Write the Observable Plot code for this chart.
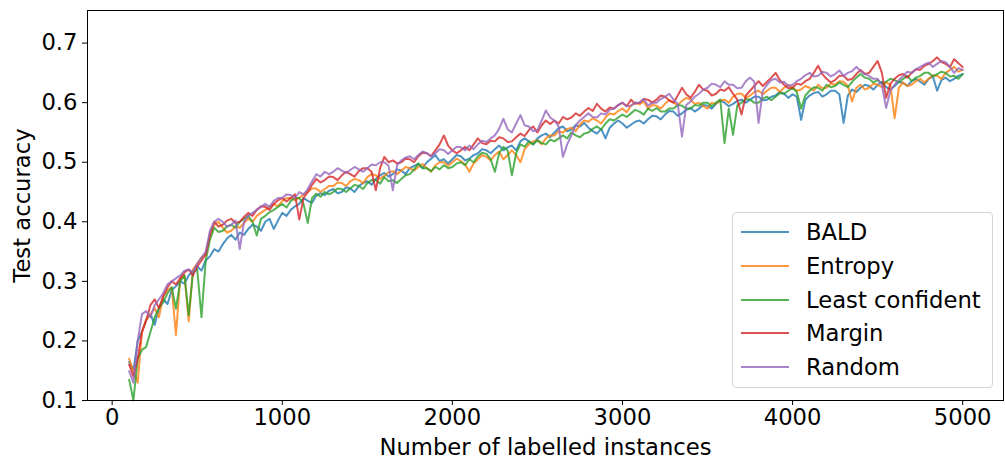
<!DOCTYPE html>
<html>
<head>
<meta charset="utf-8">
<script src="https://cdn.jsdelivr.net/npm/d3@7"></script>
<script src="https://cdn.jsdelivr.net/npm/@observablehq/plot@0.6"></script>
<style>
  body { margin: 0; background: #fff; }
  #wrap { position: relative; width: 1005px; height: 463px; font-family: "DejaVu Sans", sans-serif; }
  #legend { position: absolute; left: 732px; top: 212px; width: 259px; height: 174px;
    border: 1px solid #d5d5d5; border-radius: 4px; background: rgba(255,255,255,0.85); box-sizing: content-box; }
  .item { position: absolute; left: 0; height: 0; }
  .swatch { position: absolute; left: 8px; width: 48px; height: 2px; top: -1px; }
  .lbl { position: absolute; left: 73px; top: -14px; font-size: 22.7px; line-height: 28px; white-space: nowrap; color: #000; }
</style>
</head>
<body>
<div id="wrap"><div id="chart"></div><div id="legend"></div></div>
<script>
// x positions: number of labelled instances (every 25)
const instances = d3.range(100, 5001, 25);

const seriesNames = ["BALD", "Entropy", "Least confident", "Margin", "Random"];
const seriesColors = ["#1f77b4", "#ff7f0e", "#2ca02c", "#d62728", "#9467bd"];

const bald = [
  0.165,0.150,0.200,0.215,0.235,0.245,0.227,0.255,0.270,0.262,0.285,0.292,0.300,0.296,0.310,0.318,0.325,0.318,0.335,0.342,
  0.354,0.350,0.362,0.372,0.378,0.370,0.382,0.378,0.388,0.395,0.392,0.385,0.400,0.405,0.388,0.402,0.415,0.410,0.420,0.426,
  0.430,0.440,0.435,0.432,0.444,0.448,0.445,0.452,0.455,0.448,0.450,0.458,0.456,0.450,0.460,0.465,0.468,0.462,0.472,0.478,
  0.482,0.476,0.480,0.488,0.486,0.480,0.490,0.494,0.497,0.490,0.500,0.506,0.512,0.502,0.505,0.498,0.505,0.512,0.510,0.503,
  0.506,0.512,0.515,0.522,0.520,0.515,0.522,0.528,0.520,0.525,0.528,0.520,0.535,0.540,0.535,0.530,0.540,0.545,0.548,0.542,
  0.550,0.557,0.560,0.552,0.555,0.562,0.560,0.566,0.558,0.552,0.548,0.556,0.540,0.558,0.565,0.570,0.565,0.558,0.563,0.568,
  0.570,0.565,0.572,0.578,0.577,0.572,0.580,0.586,0.585,0.578,0.582,0.588,0.591,0.585,0.590,0.596,0.595,0.590,0.598,0.604,
  0.600,0.594,0.598,0.603,0.605,0.600,0.605,0.610,0.610,0.604,0.605,0.610,0.612,0.618,0.615,0.608,0.614,0.610,0.571,0.605,
  0.612,0.616,0.618,0.610,0.614,0.620,0.620,0.614,0.566,0.612,0.622,0.618,0.625,0.630,0.628,0.622,0.630,0.635,0.626,0.622,
  0.628,0.635,0.633,0.628,0.636,0.640,0.635,0.630,0.640,0.644,0.620,0.638,0.642,0.636,0.640,0.645,0.648
];
const entropy = [
  0.170,0.150,0.130,0.215,0.235,0.245,0.255,0.240,0.275,0.285,0.290,0.210,0.305,0.310,0.233,0.320,0.330,0.340,0.345,0.375,
  0.395,0.400,0.390,0.382,0.385,0.392,0.390,0.398,0.405,0.400,0.410,0.415,0.420,0.425,0.430,0.426,0.435,0.440,0.440,0.436,
  0.440,0.446,0.450,0.456,0.456,0.450,0.455,0.460,0.460,0.466,0.465,0.460,0.468,0.472,0.470,0.465,0.475,0.480,0.478,0.472,
  0.477,0.483,0.485,0.480,0.486,0.492,0.490,0.486,0.492,0.497,0.490,0.484,0.495,0.500,0.500,0.494,0.500,0.506,0.502,0.496,
  0.484,0.498,0.505,0.512,0.509,0.503,0.512,0.518,0.505,0.512,0.520,0.512,0.500,0.522,0.530,0.535,0.537,0.530,0.540,0.545,
  0.545,0.552,0.550,0.556,0.558,0.552,0.563,0.570,0.568,0.574,0.570,0.565,0.575,0.582,0.580,0.586,0.590,0.584,0.595,0.600,
  0.597,0.602,0.590,0.596,0.595,0.590,0.598,0.604,0.600,0.596,0.603,0.608,0.605,0.598,0.600,0.594,0.590,0.600,0.598,0.604,
  0.605,0.600,0.610,0.615,0.615,0.608,0.612,0.618,0.620,0.614,0.620,0.625,0.625,0.618,0.625,0.630,0.625,0.620,0.622,0.628,
  0.625,0.620,0.630,0.624,0.625,0.632,0.630,0.636,0.635,0.628,0.602,0.625,0.630,0.622,0.625,0.632,0.630,0.626,0.634,0.630,
  0.574,0.625,0.634,0.628,0.630,0.636,0.640,0.634,0.640,0.646,0.645,0.640,0.650,0.655,0.660,0.652,0.655
];
const leastConfident = [
  0.135,0.100,0.170,0.185,0.190,0.215,0.240,0.255,0.265,0.280,0.290,0.254,0.300,0.310,0.243,0.315,0.320,0.240,0.335,0.370,
  0.390,0.383,0.385,0.392,0.395,0.390,0.400,0.405,0.410,0.400,0.377,0.405,0.410,0.416,0.420,0.425,0.430,0.424,0.435,0.440,
  0.440,0.430,0.398,0.440,0.447,0.442,0.450,0.446,0.450,0.456,0.455,0.450,0.456,0.462,0.460,0.455,0.465,0.470,0.470,0.464,
  0.475,0.468,0.470,0.465,0.472,0.478,0.480,0.488,0.498,0.490,0.490,0.485,0.492,0.488,0.495,0.490,0.492,0.498,0.500,0.495,
  0.505,0.500,0.510,0.516,0.514,0.505,0.484,0.515,0.526,0.520,0.478,0.515,0.530,0.526,0.535,0.530,0.537,0.532,0.530,0.538,
  0.535,0.540,0.545,0.540,0.550,0.545,0.542,0.548,0.550,0.556,0.560,0.555,0.565,0.572,0.570,0.575,0.580,0.576,0.582,0.588,
  0.585,0.580,0.590,0.586,0.591,0.585,0.585,0.590,0.590,0.596,0.595,0.590,0.590,0.596,0.595,0.600,0.600,0.594,0.600,0.605,
  0.532,0.590,0.546,0.595,0.600,0.606,0.605,0.600,0.600,0.607,0.610,0.604,0.610,0.616,0.615,0.620,0.625,0.618,0.590,0.612,
  0.620,0.626,0.625,0.620,0.630,0.626,0.628,0.634,0.630,0.626,0.635,0.642,0.648,0.642,0.640,0.634,0.638,0.632,0.635,0.640,
  0.638,0.634,0.640,0.645,0.636,0.642,0.645,0.650,0.650,0.644,0.648,0.652,0.650,0.644,0.645,0.640,0.648
];
const margin = [
  0.160,0.140,0.170,0.215,0.235,0.260,0.270,0.255,0.275,0.290,0.300,0.295,0.305,0.315,0.320,0.310,0.325,0.335,0.345,0.380,
  0.400,0.392,0.395,0.402,0.405,0.398,0.400,0.408,0.415,0.410,0.420,0.426,0.425,0.420,0.430,0.436,0.440,0.434,0.440,0.446,
  0.404,0.440,0.450,0.462,0.472,0.466,0.470,0.476,0.475,0.470,0.478,0.484,0.480,0.476,0.485,0.490,0.490,0.484,0.453,0.490,
  0.509,0.500,0.503,0.498,0.500,0.506,0.505,0.500,0.510,0.516,0.515,0.510,0.520,0.530,0.545,0.528,0.520,0.515,0.520,0.526,
  0.520,0.530,0.540,0.532,0.530,0.536,0.535,0.542,0.540,0.534,0.535,0.542,0.548,0.544,0.554,0.560,0.550,0.562,0.570,0.564,
  0.570,0.565,0.576,0.572,0.575,0.582,0.578,0.585,0.591,0.586,0.598,0.590,0.585,0.592,0.590,0.596,0.600,0.594,0.605,0.598,
  0.600,0.606,0.605,0.600,0.605,0.612,0.610,0.604,0.600,0.612,0.625,0.614,0.608,0.618,0.630,0.622,0.620,0.612,0.615,0.622,
  0.620,0.626,0.615,0.605,0.580,0.612,0.620,0.628,0.636,0.628,0.635,0.642,0.650,0.638,0.630,0.624,0.625,0.632,0.630,0.636,
  0.640,0.650,0.662,0.648,0.640,0.634,0.638,0.645,0.645,0.638,0.640,0.648,0.655,0.648,0.650,0.660,0.670,0.650,0.608,0.632,
  0.640,0.646,0.648,0.642,0.650,0.656,0.655,0.662,0.665,0.670,0.676,0.668,0.665,0.660,0.673,0.666,0.660
];
const random = [
  0.149,0.130,0.200,0.245,0.250,0.240,0.260,0.270,0.280,0.295,0.300,0.305,0.310,0.318,0.320,0.315,0.330,0.340,0.350,0.385,
  0.400,0.405,0.400,0.392,0.395,0.402,0.354,0.400,0.410,0.415,0.420,0.425,0.430,0.425,0.435,0.440,0.440,0.446,0.445,0.440,
  0.450,0.446,0.455,0.468,0.480,0.476,0.484,0.480,0.484,0.490,0.486,0.482,0.487,0.492,0.488,0.484,0.490,0.496,0.495,0.500,
  0.500,0.494,0.453,0.495,0.503,0.508,0.510,0.505,0.512,0.518,0.515,0.510,0.515,0.522,0.520,0.514,0.520,0.526,0.525,0.520,
  0.528,0.522,0.530,0.536,0.534,0.540,0.545,0.556,0.573,0.555,0.550,0.565,0.579,0.562,0.560,0.552,0.554,0.570,0.587,0.575,
  0.570,0.560,0.509,0.530,0.545,0.562,0.570,0.576,0.582,0.576,0.575,0.582,0.580,0.588,0.590,0.596,0.600,0.594,0.595,0.600,
  0.600,0.606,0.595,0.600,0.600,0.606,0.610,0.615,0.605,0.598,0.543,0.596,0.602,0.610,0.615,0.622,0.625,0.632,0.630,0.626,
  0.636,0.630,0.630,0.624,0.625,0.636,0.642,0.635,0.566,0.620,0.630,0.638,0.640,0.634,0.635,0.628,0.630,0.636,0.640,0.646,
  0.650,0.644,0.645,0.652,0.650,0.644,0.648,0.654,0.645,0.650,0.653,0.660,0.653,0.648,0.645,0.640,0.640,0.630,0.591,0.620,
  0.630,0.638,0.645,0.652,0.650,0.656,0.660,0.664,0.667,0.660,0.665,0.670,0.668,0.660,0.650,0.658,0.655
];

const xTicks = [0, 1000, 2000, 3000, 4000, 5000];
const yTicks = [0.1, 0.2, 0.3, 0.4, 0.5, 0.6, 0.7];

const seriesValues = [bald, entropy, leastConfident, margin, random];
const rows = [];
seriesNames.forEach((name, k) => {
  seriesValues[k].forEach((v, i) => rows.push({x: instances[i], y: v, s: name}));
});

const chart = Plot.plot({
  width: 1005,
  height: 463,
  marginLeft: 87,
  marginRight: 2,
  marginTop: 10,
  marginBottom: 63,
  style: {fontFamily: "DejaVu Sans, sans-serif", fontSize: "22.7px", color: "#000", background: "#fff"},
  x: {domain: [-145, 5240]},
  y: {domain: [0.1, 0.7547]},
  color: {domain: seriesNames, range: seriesColors},
  marks: [
    Plot.lineY(rows, {x: "x", y: "y", stroke: "s", strokeWidth: 2, strokeOpacity: 0.8}),
    Plot.frame({stroke: "#000", strokeWidth: 1}),
    Plot.axisX({ticks: xTicks, tickFormat: d => String(d), tickSize: 5, tickPadding: 3, fontSize: 22.7,
      label: "Number of labelled instances", labelAnchor: "center", labelOffset: 54, labelArrow: "none"}),
    Plot.axisY({ticks: yTicks, tickFormat: d3.format(".1f"), tickSize: 5, tickPadding: 5, fontSize: 22.7,
      label: "Test accuracy", labelAnchor: "center", labelOffset: 74, labelArrow: "none"})
  ]
});
document.getElementById("chart").appendChild(chart);

const legend = document.getElementById("legend");
seriesNames.forEach((name, k) => {
  const item = document.createElement("div");
  item.className = "item";
  item.style.top = (19 + k * 33.8) + "px";
  const sw = document.createElement("div");
  sw.className = "swatch";
  sw.style.background = seriesColors[k];
  sw.style.opacity = 0.8;
  const lb = document.createElement("div");
  lb.className = "lbl";
  lb.textContent = name;
  item.appendChild(sw);
  item.appendChild(lb);
  legend.appendChild(item);
});
</script>
</body>
</html>
